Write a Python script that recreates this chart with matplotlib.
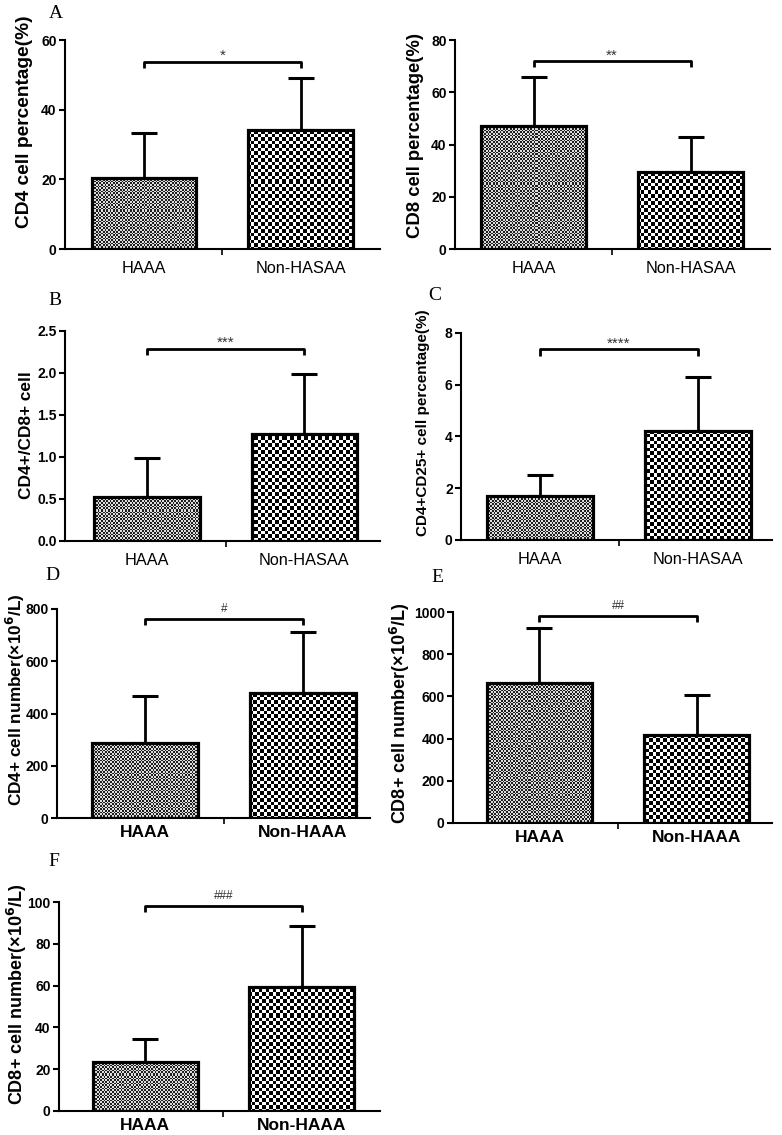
import numpy as np
import matplotlib
matplotlib.use("Agg")
import matplotlib.pyplot as plt

plt.rcParams['font.family'] = ['Liberation Sans', 'DejaVu Sans']

# data
groups_pct = ["HAAA", "Non-HASAA"]
groups_num = ["HAAA", "Non-HAAA"]

cd4_pct_mean = [20.4, 34.2]
cd4_pct_top = [33.3, 49.0]

cd8_pct_mean = [47.1, 29.6]
cd8_pct_top = [65.9, 43.0]

ratio_mean = [0.527, 1.27]
ratio_top = [0.985, 1.985]

treg_mean = [1.70, 4.22]
treg_top = [2.51, 6.31]

cd4_num_mean = [288, 477]
cd4_num_top = [467, 713]

cd8_num_mean = [665, 417]
cd8_num_top = [926, 607]

cd8_num2_mean = [23.6, 59.5]
cd8_num2_top = [34.4, 88.5]

bracket_y = [53.8, 72.0, 2.29, 7.37, 761, 982, 98.1]
sig_marks = ["*", "**", "***", "****", "#", "##", "###"]

W, H = 782, 1135
fig = plt.figure(figsize=(W / 100, H / 100), dpi=100)


def checker(h, w, cell):
    yy, xx = np.mgrid[0:h, 0:w]
    return ((np.floor(xx / cell) + np.floor(yy / cell)) % 2).astype(float)


def panel(box, xlim, ymax, ystep, means, tops, labels, ylabel, ylab_px, ylab_size,
          letter, letter_px, bold_x, bracket, mark):
    left, top, right, bottom = box
    ax = fig.add_axes([left / W, 1 - bottom / H, (right - left) / W, (bottom - top) / H])
    aw, ah = right - left, bottom - top
    x = np.arange(len(means))
    bars = ax.bar(x, means, width=0.67, facecolor="none", edgecolor="black",
                  linewidth=2.3, zorder=3)
    textures = [checker(ah, aw, 1.7) * 0.75 + 0.12, checker(ah, aw, 3.5)]
    for b, tex in zip(bars, textures):
        im = ax.imshow(tex, cmap="gray", vmin=0, vmax=1, extent=(0, 1, 0, 1),
                       transform=ax.transAxes, aspect="auto",
                       interpolation="nearest", zorder=2)
        im.set_clip_path(b)
    err = [np.zeros(len(means)), np.array(tops) - np.array(means)]
    ax.errorbar(x, means, yerr=err, fmt="none", ecolor="black", elinewidth=2,
                capsize=9.5, capthick=2.2, zorder=1)
    d = ymax * 0.03
    ax.plot([0, 0, 1, 1], [bracket - d, bracket, bracket, bracket - d],
            color="black", lw=2, solid_capstyle="butt", clip_on=False)
    star = mark.startswith("*")
    ax.annotate(mark, (0.5, bracket), xytext=(0, 7 if not star else 4),
                textcoords="offset points", ha="center", va="center",
                fontsize=11 if star else 8.5, color="#333333")

    ax.set_xlim(*xlim)
    ax.set_ylim(0, ymax)
    ticks = np.arange(0, ymax + ystep / 2, ystep)
    ax.set_yticks(ticks)
    if ystep < 1:
        ax.set_yticklabels(["%.1f" % v for v in ticks])
    ax.set_xticks(x)
    ax.set_xticklabels(labels, fontsize=12.5 if bold_x else 11.7,
                       fontweight="bold" if bold_x else "normal")
    ax.set_xticks([0.5], minor=True)
    ax.tick_params(axis="x", which="major", length=0, pad=5 if bold_x else 8.5)
    ax.tick_params(axis="x", which="minor", length=4, width=1.2)
    ax.tick_params(axis="y", length=4, width=1.5, pad=2, labelsize=10)
    for t in ax.get_yticklabels():
        t.set_fontweight("bold")
    for s in ["top", "right"]:
        ax.spines[s].set_visible(False)
    for s in ["left", "bottom"]:
        ax.spines[s].set_linewidth(1.5)

    fig.text(ylab_px[0] / W, 1 - ylab_px[1] / H, ylabel, rotation=90,
             ha="center", va="center", fontsize=ylab_size, fontweight="bold")
    fig.text(letter_px[0] / W, 1 - letter_px[1] / H, letter,
             ha="center", va="center", fontsize=14, family="Liberation Serif")
    return ax


unit = r"(×10$^{\mathbf{6}}$/L)"

panel((65, 40, 380, 249), (-0.505, 1.508), 60, 20, cd4_pct_mean, cd4_pct_top,
      groups_pct, "CD4 cell percentage(%)", (25, 122), 13.8, "A", (56, 14),
      False, bracket_y[0], sig_marks[0])
panel((455, 40, 770, 249), (-0.5, 1.506), 80, 20, cd8_pct_mean, cd8_pct_top,
      groups_pct, "CD8 cell percentage(%)", (415, 136), 13.3, "", (0, 0),
      False, bracket_y[1], sig_marks[1])
panel((65, 331, 380, 541), (-0.52, 1.48), 2.5, 0.5, ratio_mean, ratio_top,
      groups_pct, "CD4+/CD8+ cell", (27, 435), 12.4, "B", (55, 301),
      False, bracket_y[2], sig_marks[2])
panel((461, 333, 772, 540), (-0.50, 1.47), 8, 2, treg_mean, treg_top,
      groups_pct, "CD4+CD25+ cell percentage(%)", (423, 423), 11, "C", (435, 296),
      False, bracket_y[3], sig_marks[3])
panel((57, 609, 370, 818), (-0.557, 1.424), 800, 200, cd4_num_mean, cd4_num_top,
      groups_num, "CD4+ cell number" + unit, (15, 700), 12.4, "D", (52, 576),
      True, bracket_y[4], sig_marks[4])
panel((453, 612, 772, 823), (-0.55, 1.48), 1000, 200, cd8_num_mean, cd8_num_top,
      groups_num, "CD8+ cell number" + unit, (400, 713), 13, "E", (437, 578),
      True, bracket_y[5], sig_marks[5])
panel((59, 902, 380, 1111), (-0.55, 1.50), 100, 20, cd8_num2_mean, cd8_num2_top,
      groups_num, "CD8+ cell number" + unit, (17, 994), 13, "F", (54, 861),
      True, bracket_y[6], sig_marks[6])

fig.savefig("out.png", dpi=100)
